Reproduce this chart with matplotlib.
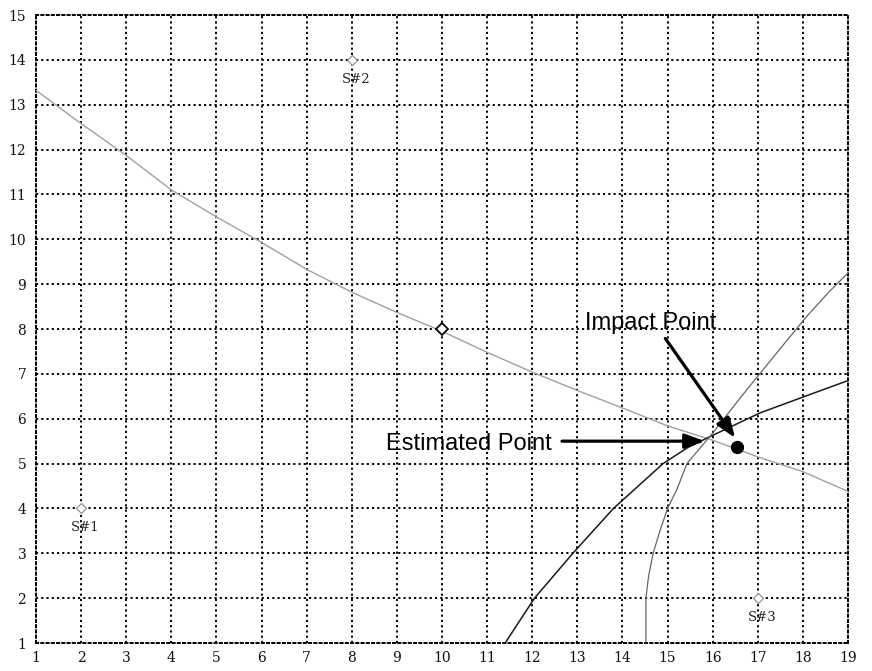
import numpy as np
import matplotlib.pyplot as plt

# range-difference hyperbolas traced over the grid
h12_x = [1, 2, 3, 4, 5, 6, 7, 8, 9, 10, 11, 12, 13, 14, 15, 16, 17, 18, 19]
h12_y = [13.32, 12.58, 11.87, 11.10, 10.50, 9.93, 9.33, 8.82, 8.37, 7.95,
         7.48, 7.04, 6.63, 6.24, 5.84, 5.52, 5.15, 4.82, 4.38]

h13_x = [11.40, 12.05, 12.90, 13.80, 14.90, 15.45, 16.00, 17.05, 18.10, 19.00]
h13_y = [1.00, 2.00, 3.00, 4.00, 5.00, 5.36, 5.63, 6.13, 6.52, 6.85]

h23_x = [14.52, 14.52, 14.58, 14.68, 14.83, 15.00, 15.20, 15.43, 16.00,
         16.60, 17.00, 17.65, 18.10, 18.60, 19.00]
h23_y = [1.00, 2.00, 2.50, 3.00, 3.50, 4.00, 4.41, 5.00, 5.68,
         6.45, 6.95, 7.75, 8.30, 8.85, 9.25]

sensor_x = [2, 8, 17]
sensor_y = [4, 14, 2]
sensor_names = ['S#1', 'S#2', 'S#3']

ref_x, ref_y = 10, 8
impact_x, impact_y = 16.55, 5.36

# arrow tails / tips and label anchors
est_tail = (12.66, 5.5)
est_tip = (15.83, 5.5)
est_label = (12.44, 5.3)
imp_tail = (14.95, 7.79)
imp_tip = (16.50, 5.57)
imp_label = (13.17, 8.0)

xticks = list(range(1, 20))
yticks = list(range(1, 16))

fig = plt.figure(figsize=(8.72, 6.71), dpi=100)
ax = fig.add_axes([0.0413, 0.0417, 0.9312, 0.9359])

dots = (0, (1.1, 1.6))
ax.set_xlim(1, 19)
ax.set_ylim(1, 15)
ax.set_xticks(xticks)
ax.set_yticks(yticks)
ax.grid(True, color='black', linestyle=dots, linewidth=1.4)
for sp in ax.spines.values():
    sp.set_linestyle(dots)
    sp.set_linewidth(1.4)
ax.tick_params(length=0, labelsize=10, colors='#111111')
ax.tick_params(axis='x', pad=6)
ax.tick_params(axis='y', pad=7)
for lab in ax.get_xticklabels() + ax.get_yticklabels():
    lab.set_family('DejaVu Serif')

ax.plot(h12_x, h12_y, color='#a0a0a0', lw=1.0, zorder=3)
ax.plot(h13_x, h13_y, color='#1a1a1a', lw=1.1, zorder=3)
ax.plot(h23_x, h23_y, color='#666666', lw=0.9, zorder=3)

ax.plot(sensor_x, sensor_y, 'D', ms=5, mfc='white', mec='#888888', mew=0.8,
        ls='none', zorder=4)
for sx, sy, name in zip(sensor_x, sensor_y, sensor_names):
    ax.annotate(name, (sx, sy), xytext=(3, -14), textcoords='offset points',
                ha='center', va='center', fontsize=9.5, family='DejaVu Serif',
                color='#222222')

ax.plot(ref_x, ref_y, 'D', ms=6, mfc='white', mec='black', mew=1.3, zorder=4)
ax.plot(impact_x, impact_y, 'o', ms=8.5, color='black', zorder=5)

arrow = dict(arrowstyle='-|>,head_length=0.6,head_width=0.22', lw=2.3,
             color='black', shrinkA=0, shrinkB=0, mutation_scale=20)
ax.annotate('', xy=est_tip, xytext=est_tail, arrowprops=arrow, zorder=6)
ax.annotate('', xy=imp_tip, xytext=imp_tail, arrowprops=arrow, zorder=6)
ax.text(*est_label, 'Estimated Point', ha='right', va='baseline',
        fontsize=17, family='Liberation Sans', zorder=6)
ax.text(*imp_label, 'Impact Point', ha='left', va='baseline',
        fontsize=17, family='Liberation Sans', zorder=6)

fig.savefig('out.png', dpi=100)
